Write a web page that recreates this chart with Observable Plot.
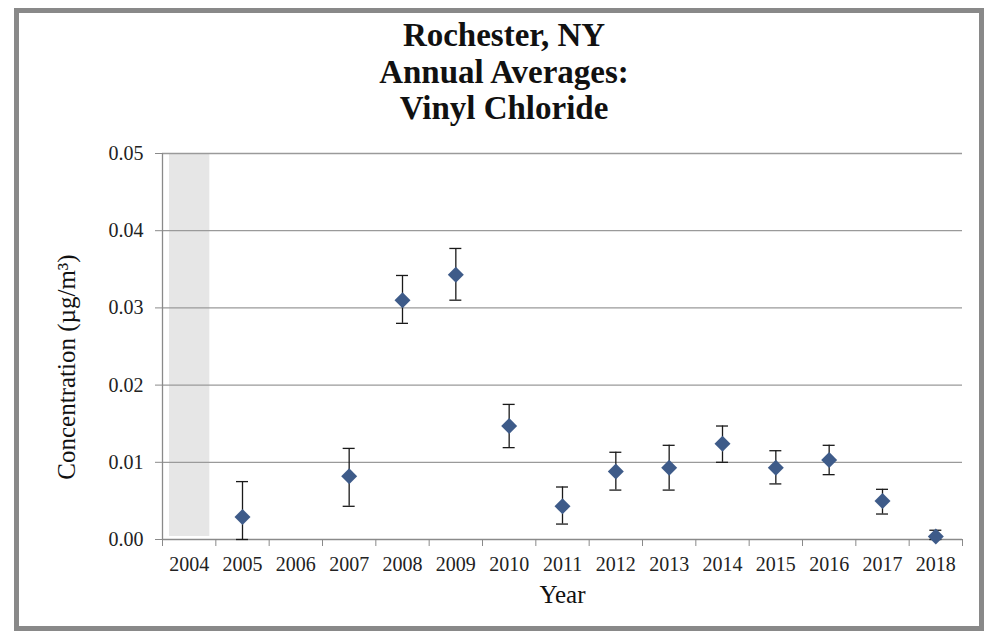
<!DOCTYPE html>
<html>
<head>
<meta charset="utf-8">
<script src="https://cdn.jsdelivr.net/npm/d3@7"></script>
<script src="https://cdn.jsdelivr.net/npm/@observablehq/plot@0.6"></script>
<style>
  html, body { margin: 0; padding: 0; background: #fff; width: 990px; height: 631px; overflow: hidden; }
  #frame { position: absolute; left: 14px; top: 8px; width: 960px; height: 613px; border: 5px solid #898989; box-sizing: content-box; }
  #title { position: absolute; left: 9px; top: 17px; width: 990px; text-align: center;
           font-family: "Liberation Serif", "Times New Roman", serif; font-weight: bold; font-size: 33px; line-height: 36.5px; color: #111; }
  #chart { position: absolute; left: 0; top: 140px; }
  #ylabel { position: absolute; left: 66px; top: 367px; transform: translate(-50%, -50%) rotate(-90deg);
            white-space: nowrap; font-family: "Liberation Serif", "Times New Roman", serif; font-size: 25px; line-height: 25px; color: #111; }
</style>
</head>
<body>
<div id="frame"></div>
<div id="title">Rochester, NY<br>Annual Averages:<br>Vinyl Chloride</div>
<div id="chart"></div>
<div id="ylabel"></div>
<script>
const years = [2005, 2007, 2008, 2009, 2010, 2011, 2012, 2013, 2014, 2015, 2016, 2017, 2018];
const means = [0.0029, 0.0082, 0.0310, 0.0343, 0.0147, 0.0043, 0.0088, 0.0093, 0.0124, 0.0093, 0.0103, 0.0050, 0.0004];
const lower = [0.0000, 0.0043, 0.0280, 0.0310, 0.0119, 0.0020, 0.0064, 0.0064, 0.0100, 0.0072, 0.0084, 0.0033, 0.0000];
const upper = [0.0075, 0.0118, 0.0342, 0.0377, 0.0175, 0.0068, 0.0113, 0.0122, 0.0147, 0.0115, 0.0122, 0.0065, 0.0012];
const missingYears = [2004];
const yearLabels = [2004, 2005, 2006, 2007, 2008, 2009, 2010, 2011, 2012, 2013, 2014, 2015, 2016, 2017, 2018];
const yTicks = [0, 0.01, 0.02, 0.03, 0.04, 0.05];
const xTitle = "Year";
const yTitle = "Concentration (µg/m³)";

const data = years.map((year, i) => ({year, mean: means[i], lo: lower[i], hi: upper[i]}));
const xDomain = [yearLabels[0] - 0.5, yearLabels[yearLabels.length - 1] + 0.5];
const boundaries = [...yearLabels.map(y => y - 0.5), yearLabels[yearLabels.length - 1] + 0.5];
const font = "Liberation Serif, Times New Roman, serif";

const chart = Plot.plot({
  width: 990,
  height: 480,
  marginLeft: 162,
  marginRight: 28,
  marginTop: 13,
  marginBottom: 81,
  style: {fontFamily: font, background: "transparent", color: "#222", overflow: "visible"},
  x: {domain: xDomain},
  y: {domain: [0, 0.05]},
  marks: [
    Plot.rectY(missingYears, {x1: d => d - 0.5, x2: d => d + 0.5, y1: 0, y2: 0.05, fill: "#e6e6e6", insetLeft: 7, insetRight: 6, insetBottom: 3}),
    Plot.gridY({ticks: yTicks.slice(1), stroke: "#9a9a9a", strokeOpacity: 1, strokeWidth: 1.3}),
    Plot.ruleY([0], {stroke: "#8a8a8a", strokeWidth: 1.3}),
    Plot.ruleX([xDomain[0]], {stroke: "#8a8a8a", strokeWidth: 1.3}),
    Plot.axisY({ticks: yTicks, tickSize: 7, tickPadding: 12, tickFormat: d3.format(".2f"), fontSize: 20, fontFamily: font, stroke: "#8a8a8a", label: null}),
    Plot.axisX({ticks: boundaries, tickSize: 7, tickFormat: () => "", stroke: "#8a8a8a", label: null}),
    Plot.axisX({ticks: yearLabels, tickSize: 0, tickPadding: 17, tickFormat: d => String(d), fontSize: 20, fontFamily: font, label: null}),
    Plot.ruleX(data, {x: "year", y1: "lo", y2: "hi", stroke: "#1a1a1a", strokeWidth: 1.3}),
    Plot.ruleY(data, {x1: "year", x2: "year", y: "hi", stroke: "#1a1a1a", strokeWidth: 1.3, insetLeft: -6, insetRight: -6}),
    Plot.ruleY(data, {x1: "year", x2: "year", y: "lo", stroke: "#1a1a1a", strokeWidth: 1.3, insetLeft: -6, insetRight: -6}),
    Plot.dot(data, {x: "year", y: "mean", symbol: "diamond2", r: 7.2, fill: "#3e5b89", stroke: "none"}),
    Plot.text([xTitle], {frameAnchor: "bottom", dy: 63, fontSize: 25, fontFamily: font, fill: "#111"})
  ]
});
document.getElementById("chart").appendChild(chart);
document.getElementById("ylabel").textContent = yTitle;
</script>
</body>
</html>
